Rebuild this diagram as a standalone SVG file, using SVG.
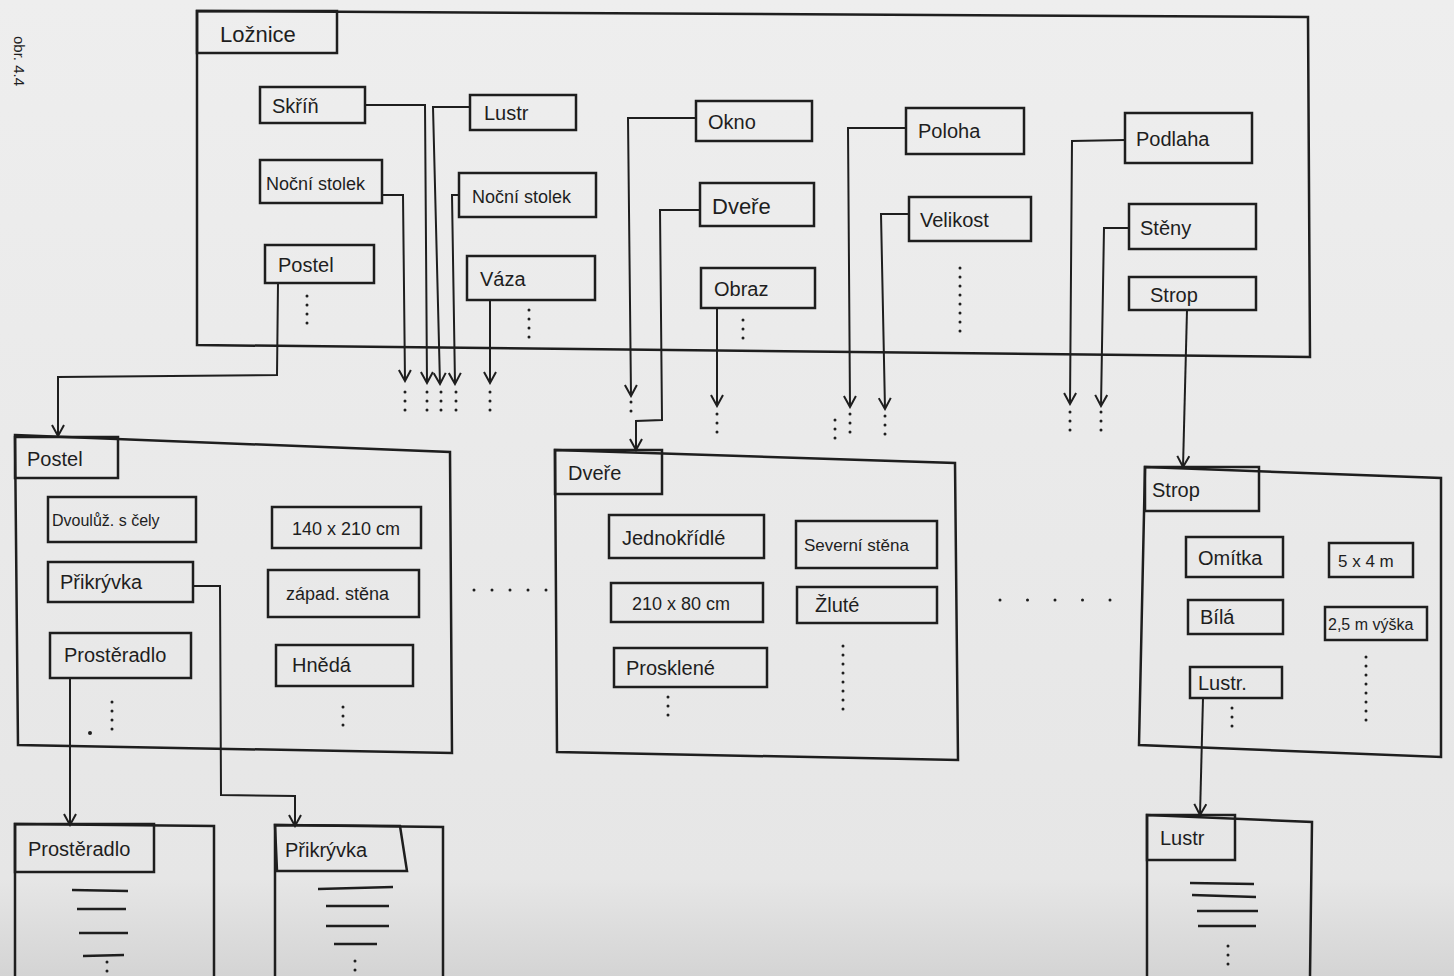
<svg xmlns="http://www.w3.org/2000/svg" width="1454" height="976" viewBox="0 0 1454 976">
<defs>
<marker id="arr" markerUnits="userSpaceOnUse" markerWidth="14" markerHeight="14" refX="12" refY="7" orient="auto">
<path d="M1,1 L12,7 L1,13" fill="none" stroke="#1e1e1e" stroke-width="2"/>
</marker>
<linearGradient id="bg" x1="0" y1="0" x2="0" y2="1">
<stop offset="0" stop-color="#eeeeee"/>
<stop offset="0.9" stop-color="#e6e6e6"/>
<stop offset="1" stop-color="#d4d4d4"/>
</linearGradient>
</defs>
<style>
.b{fill:none;stroke:#1e1e1e;stroke-width:2.5}
.t{font-family:"Liberation Sans",Arial,sans-serif;font-size:20px;fill:#1e1e1e}
.c{fill:none;stroke:#1e1e1e;stroke-width:2;marker-end:url(#arr)}
.l{fill:none;stroke:#1e1e1e;stroke-width:2}
.d{fill:none;stroke:#1e1e1e;stroke-width:3;stroke-linecap:round;stroke-dasharray:0 9}
.dw{fill:none;stroke:#1e1e1e;stroke-width:3;stroke-linecap:round;stroke-dasharray:0 18}
.dx{fill:none;stroke:#1e1e1e;stroke-width:3;stroke-linecap:round;stroke-dasharray:0 27.5}
.h{fill:none;stroke:#1e1e1e;stroke-width:2.5}
</style>
<rect width="1454" height="976" fill="url(#bg)"/>
<text class="t" transform="translate(14,36) rotate(90)" style="font-size:15px">obr. 4.4</text>

<g id="loznice">
<polygon class="b" points="197,11 1308,17 1310,357 197,345"/>
<rect class="b" x="197" y="11" width="140" height="42"/>
<text class="t" x="220" y="42" style="font-size:22px">Ložnice</text>
</g>
<g id="skrin"><rect class="b" x="260" y="87" width="105" height="36"/><text class="t" x="272" y="113">Skříň</text></g>
<g id="nocni1"><rect class="b" x="260" y="160" width="122" height="43"/><text class="t" x="266" y="190" style="font-size:18px">Noční stolek</text></g>
<g id="postel1"><rect class="b" x="265" y="245" width="109" height="38"/><text class="t" x="278" y="272">Postel</text>
<line class="d" x1="307" y1="296" x2="307" y2="324"/></g>
<g id="lustr1"><rect class="b" x="470" y="95" width="106" height="35"/><text class="t" x="484" y="120">Lustr</text></g>
<g id="nocni2"><rect class="b" x="459" y="173" width="137" height="44"/><text class="t" x="472" y="203" style="font-size:18px">Noční stolek</text></g>
<g id="vaza"><rect class="b" x="467" y="256" width="128" height="44"/><text class="t" x="480" y="286">Váza</text>
<line class="d" x1="529" y1="310" x2="529" y2="342"/></g>
<g id="okno"><rect class="b" x="696" y="101" width="116" height="40"/><text class="t" x="708" y="129">Okno</text></g>
<g id="dvere1"><rect class="b" x="700" y="183" width="114" height="43"/><text class="t" x="712" y="214" style="font-size:22px">Dveře</text></g>
<g id="obraz"><rect class="b" x="701" y="268" width="114" height="40"/><text class="t" x="714" y="296">Obraz</text>
<line class="d" x1="743" y1="320" x2="743" y2="346"/></g>
<g id="poloha"><rect class="b" x="906" y="108" width="118" height="46"/><text class="t" x="918" y="138">Poloha</text></g>
<g id="velikost"><rect class="b" x="909" y="197" width="122" height="44"/><text class="t" x="920" y="227">Velikost</text>
<line class="d" x1="960" y1="268" x2="960" y2="332"/></g>
<g id="podlaha"><rect class="b" x="1125" y="113" width="127" height="50"/><text class="t" x="1136" y="146">Podlaha</text></g>
<g id="steny"><rect class="b" x="1129" y="204" width="127" height="45"/><text class="t" x="1140" y="235">Stěny</text></g>
<g id="strop1"><rect class="b" x="1129" y="277" width="127" height="33"/><text class="t" x="1150" y="302">Strop</text></g>

<g id="postel">
<polygon class="b" points="15,435 450,452 452,753 18,745"/>
<rect class="b" x="15" y="437" width="103" height="41"/>
<text class="t" x="27" y="466">Postel</text>
<g id="dvoluz"><rect class="b" x="48" y="497" width="148" height="45"/><text class="t" x="52" y="526" style="font-size:16px">Dvoulůž. s čely</text></g>
<g id="prikryvka1"><rect class="b" x="48" y="562" width="145" height="40"/><text class="t" x="60" y="589">Přikrývka</text></g>
<g id="prosteradlo1"><rect class="b" x="50" y="633" width="141" height="45"/><text class="t" x="64" y="662">Prostěradlo</text></g>
<line class="d" x1="112" y1="702" x2="112" y2="730"/>
<circle cx="90" cy="733" r="2" fill="#1e1e1e"/>
<g id="rozmer1"><rect class="b" x="272" y="507" width="149" height="41"/><text class="t" x="292" y="535" style="font-size:18px">140 x 210 cm</text></g>
<g id="zapad"><rect class="b" x="268" y="570" width="151" height="47"/><text class="t" x="286" y="600" style="font-size:18px">západ. stěna</text></g>
<g id="hneda"><rect class="b" x="276" y="645" width="137" height="41"/><text class="t" x="292" y="672">Hnědá</text></g>
<line class="d" x1="343" y1="707" x2="343" y2="730"/>
</g>

<line class="dw" x1="474" y1="590" x2="547" y2="590"/>

<g id="dvere">
<polygon class="b" points="555,450 955,463 958,760 557,752"/>
<rect class="b" x="555" y="450" width="107" height="44"/>
<text class="t" x="568" y="480">Dveře</text>
<g id="jednokridle"><rect class="b" x="609" y="515" width="155" height="43"/><text class="t" x="622" y="545">Jednokřídlé</text></g>
<g id="rozmer2"><rect class="b" x="611" y="583" width="152" height="39"/><text class="t" x="632" y="610" style="font-size:18px">210 x 80 cm</text></g>
<g id="prosklene"><rect class="b" x="614" y="648" width="153" height="39"/><text class="t" x="626" y="675">Prosklené</text></g>
<line class="d" x1="668" y1="697" x2="668" y2="722"/>
<g id="severni"><rect class="b" x="796" y="521" width="141" height="47"/><text class="t" x="804" y="551" style="font-size:17px">Severní stěna</text></g>
<g id="zlute"><rect class="b" x="797" y="587" width="140" height="36"/><text class="t" x="815" y="612">Žluté</text></g>
<line class="d" x1="843" y1="646" x2="843" y2="712"/>
</g>

<line class="dx" x1="1000" y1="600" x2="1111" y2="600"/>

<g id="strop">
<polygon class="b" points="1145,467 1441,478 1441,757 1139,745"/>
<rect class="b" x="1145" y="467" width="114" height="44"/>
<text class="t" x="1152" y="497">Strop</text>
<g id="omitka"><rect class="b" x="1186" y="537" width="97" height="40"/><text class="t" x="1198" y="565">Omítka</text></g>
<g id="rozmer3"><rect class="b" x="1329" y="543" width="84" height="34"/><text class="t" x="1338" y="567" style="font-size:17px">5 x 4 m</text></g>
<g id="bila"><rect class="b" x="1188" y="600" width="95" height="34"/><text class="t" x="1200" y="624">Bílá</text></g>
<g id="vyska"><rect class="b" x="1325" y="607" width="102" height="33"/><text class="t" x="1328" y="630" style="font-size:16px">2,5 m výška</text></g>
<g id="lustr2"><rect class="b" x="1190" y="667" width="92" height="31"/><text class="t" x="1198" y="690">Lustr.</text></g>
<line class="d" x1="1232" y1="708" x2="1232" y2="730"/>
<line class="d" x1="1366" y1="657" x2="1366" y2="726"/>
</g>

<g id="prosteradlo">
<polyline class="b" points="15,976 15,824 214,826 214,976"/>
<rect class="b" x="15" y="824" width="139" height="48"/>
<text class="t" x="28" y="856">Prostěradlo</text>
<line class="h" x1="72" y1="890" x2="128" y2="891"/>
<line class="h" x1="77" y1="909" x2="126" y2="909"/>
<line class="h" x1="79" y1="933" x2="128" y2="933"/>
<line class="h" x1="83" y1="956" x2="124" y2="955"/>
<line class="d" x1="107" y1="962" x2="107" y2="972"/>
</g>
<g id="prikryvka">
<polyline class="b" points="275,976 275,825 443,827 443,976"/>
<polygon class="b" points="275,825 400,826 407,871 277,871"/>
<text class="t" x="285" y="857">Přikrývka</text>
<line class="h" x1="318" y1="889" x2="393" y2="887"/>
<line class="h" x1="326" y1="906" x2="389" y2="906"/>
<line class="h" x1="326" y1="926" x2="389" y2="926"/>
<line class="h" x1="334" y1="944" x2="377" y2="944"/>
<line class="d" x1="355" y1="961" x2="355" y2="972"/>
</g>
<g id="lustr">
<polyline class="b" points="1147,976 1147,815 1312,822 1310,976"/>
<rect class="b" x="1147" y="815" width="88" height="45"/>
<text class="t" x="1160" y="845">Lustr</text>
<line class="h" x1="1190" y1="883" x2="1254" y2="884"/>
<line class="h" x1="1192" y1="895" x2="1256" y2="897"/>
<line class="h" x1="1197" y1="911" x2="1258" y2="911"/>
<line class="h" x1="1198" y1="926" x2="1256" y2="926"/>
<line class="d" x1="1228" y1="946" x2="1228" y2="972"/>
</g>

<g id="connectors">
<polyline class="c" points="365,105 425,105 427,383"/>
<polyline class="c" points="382,195 403,195 405,381"/>
<polyline class="c" points="470,107 433,107 440,384"/>
<polyline class="c" points="459,195 452,195 455,384"/>
<polyline class="c" points="490,300 490,383"/>
<polyline class="c" points="278,283 277,375 58,377 58,436"/>
<polyline class="c" points="696,118 628,118 631,396"/>
<polyline class="c" points="700,210 660,210 662,420 636,421 636,450"/>
<polyline class="c" points="717,308 717,406"/>
<polyline class="c" points="906,128 848,128 850,407"/>
<polyline class="c" points="909,214 881,214 885,409"/>
<polyline class="c" points="1125,140 1072,141 1070,404"/>
<polyline class="c" points="1129,228 1104,228 1101,406"/>
<polyline class="c" points="1187,310 1183,467"/>
<polyline class="c" points="193,586 220,586 221,795 295,796 295,826"/>
<polyline class="c" points="70,678 70,825"/>
<polyline class="c" points="1203,698 1200,815"/>
<line class="d" x1="405" y1="392" x2="405" y2="416"/>
<line class="d" x1="427" y1="392" x2="427" y2="416"/>
<line class="d" x1="441" y1="392" x2="441" y2="416"/>
<line class="d" x1="456" y1="392" x2="456" y2="416"/>
<line class="d" x1="490" y1="392" x2="490" y2="416"/>
<line class="d" x1="631" y1="402" x2="631" y2="412"/>
<line class="d" x1="717" y1="414" x2="717" y2="436"/>
<line class="d" x1="835" y1="420" x2="835" y2="440"/>
<line class="d" x1="850" y1="414" x2="850" y2="440"/>
<line class="d" x1="885" y1="416" x2="885" y2="440"/>
<line class="d" x1="1070" y1="412" x2="1070" y2="434"/>
<line class="d" x1="1101" y1="412" x2="1101" y2="434"/>
</g>
</svg>
